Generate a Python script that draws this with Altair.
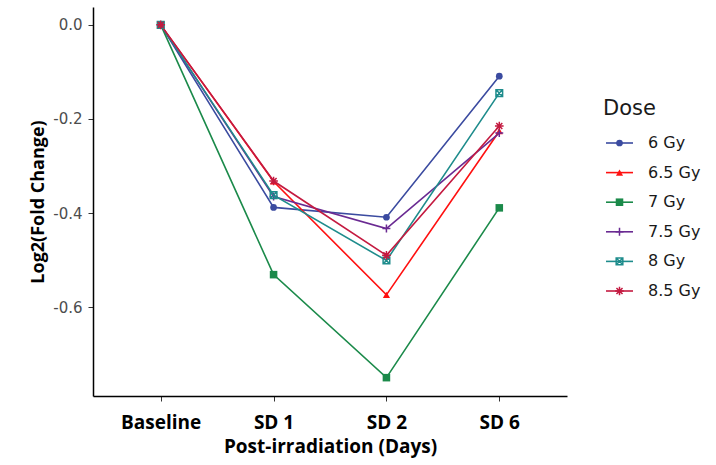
import altair as alt
import pandas as pd

timepoints = ["Baseline", "SD 1", "SD 2", "SD 6"]
doses = ["6 Gy", "6.5 Gy", "7 Gy", "7.5 Gy", "8 Gy", "8.5 Gy"]
vals_6 = [0.0, -0.388, -0.409, -0.109]
vals_65 = [0.0, -0.333, -0.574, -0.226]
vals_7 = [0.0, -0.531, -0.750, -0.389]
vals_75 = [0.0, -0.365, -0.433, -0.230]
vals_8 = [0.0, -0.362, -0.501, -0.145]
vals_85 = [0.0, -0.332, -0.490, -0.215]
y_ticks = [0.0, -0.2, -0.4, -0.6]
legend_title = ["Dose"]

colors = ["#3B4BA0", "#FF1010", "#1B8A4A", "#6A2A92", "#1E8C8C", "#C41A40"]
shapes = [
    "circle",
    "triangle-up",
    "square",
    "M-1,0L1,0M0,-1L0,1",
    "M-0.8,-0.8L0.8,-0.8L0.8,0.8L-0.8,0.8ZM-0.8,-0.8L0.8,0.8M-0.8,0.8L0.8,-0.8",
    "M-1,0L1,0M0,-1L0,1M-0.7,-0.7L0.7,0.7M-0.7,0.7L0.7,-0.7",
]
sizes = [45, 75, 40, 110, 64, 100]

series = [vals_6, vals_65, vals_7, vals_75, vals_8, vals_85]
rows = []
for d, vs in zip(doses, series):
    for t, v in zip(timepoints, vs):
        rows.append({"Time": t, "Dose": d, "Value": v})
df = pd.DataFrame(rows)
leg = pd.DataFrame({"Dose": doses})
title_df = pd.DataFrame({"t": legend_title})

W, H = 474, 389

color_scale = alt.Scale(domain=doses, range=colors)
shape_scale = alt.Scale(domain=doses, range=shapes)
size_scale = alt.Scale(domain=doses, range=sizes)

x_enc = alt.X(
    "Time:N",
    sort=timepoints,
    scale=alt.Scale(type="point", padding=0.6),
    axis=alt.Axis(
        title="Post-irradiation (Days)",
        labelAngle=0,
        labelFont="Open Sans",
        labelFontWeight="bold",
        labelFontSize=19,
        labelColor="#000000",
        labelPadding=12,
        tickSize=5,
        tickColor="#333333",
        domainColor="#000000",
        domainWidth=1.5,
        titleFont="Open Sans",
        titleFontWeight="bold",
        titleFontSize=19,
        titleColor="#000000",
        titlePadding=5,
    ),
)
y_enc = alt.Y(
    "Value:Q",
    scale=alt.Scale(domain=[-0.789, 0.038], nice=False, zero=False),
    axis=alt.Axis(
        title="Log2(Fold Change)",
        values=y_ticks,
        labelExpr="datum.value == 0 ? '0.0' : '-' + format(abs(datum.value), '.1f')",
        labelFont="DejaVu Sans",
        labelFontSize=15,
        labelColor="#4D4D4D",
        labelPadding=6,
        tickSize=5,
        tickColor="#333333",
        domainColor="#000000",
        domainWidth=1.5,
        grid=False,
        titleFont="Open Sans",
        titleFontWeight="bold",
        titleFontSize=18,
        titleColor="#000000",
        titlePadding=5,
    ),
)

lines = alt.Chart(df).mark_line(strokeWidth=1.6).encode(
    x=x_enc,
    y=y_enc,
    color=alt.Color("Dose:N", scale=color_scale, legend=None),
    detail="Dose:N",
)

filled_pts = alt.Chart(df).transform_filter(
    alt.FieldOneOfPredicate(field="Dose", oneOf=doses[:3])
).mark_point(filled=True, opacity=1).encode(
    x=alt.X("Time:N", sort=timepoints),
    y="Value:Q",
    color=alt.Color("Dose:N", scale=color_scale, legend=None),
    shape=alt.Shape("Dose:N", scale=shape_scale, legend=None),
    size=alt.Size("Dose:N", scale=size_scale, legend=None),
)
stroked_pts = alt.Chart(df).transform_filter(
    alt.FieldOneOfPredicate(field="Dose", oneOf=doses[3:])
).mark_point(filled=False, opacity=1, strokeWidth=1.5).encode(
    x=alt.X("Time:N", sort=timepoints),
    y="Value:Q",
    color=alt.Color("Dose:N", scale=color_scale, legend=None),
    shape=alt.Shape("Dose:N", scale=shape_scale, legend=None),
    size=alt.Size("Dose:N", scale=size_scale, legend=None),
)

main = alt.layer(lines, filled_pts, stroked_pts)

# manual legend
ly = alt.Y("Dose:N", sort=doses, scale=alt.Scale(type="point", range=[136, 284], padding=0), axis=None)
leg_rule = alt.Chart(leg).mark_rule(strokeWidth=1.6).encode(
    x=alt.value(513), x2=alt.value(540), y=ly,
    color=alt.Color("Dose:N", scale=color_scale, legend=None),
)
leg_filled = alt.Chart(leg).transform_filter(
    alt.FieldOneOfPredicate(field="Dose", oneOf=doses[:3])
).mark_point(filled=True, opacity=1).encode(
    x=alt.value(526.5), y=ly,
    color=alt.Color("Dose:N", scale=color_scale, legend=None),
    shape=alt.Shape("Dose:N", scale=shape_scale, legend=None),
    size=alt.Size("Dose:N", scale=size_scale, legend=None),
)
leg_stroked = alt.Chart(leg).transform_filter(
    alt.FieldOneOfPredicate(field="Dose", oneOf=doses[3:])
).mark_point(filled=False, opacity=1, strokeWidth=1.5).encode(
    x=alt.value(526.5), y=ly,
    color=alt.Color("Dose:N", scale=color_scale, legend=None),
    shape=alt.Shape("Dose:N", scale=shape_scale, legend=None),
    size=alt.Size("Dose:N", scale=size_scale, legend=None),
)
leg_text = alt.Chart(leg).mark_text(
    align="left", baseline="middle", font="DejaVu Sans", fontSize=16, color="#1A1A1A"
).encode(x=alt.value(555), y=ly, text="Dose:N")
leg_title = alt.Chart(title_df).mark_text(
    align="left", baseline="alphabetic", font="DejaVu Sans", fontSize=21, color="#1A1A1A"
).encode(x=alt.value(510), y=alt.value(108), text="t:N")

legend_layer = alt.layer(leg_rule, leg_filled, leg_stroked, leg_text, leg_title)

chart = alt.layer(main, legend_layer).resolve_scale(y="independent").properties(
    width=W,
    height=H,
    autosize=alt.AutoSizeParams(type="none"),
    padding={"left": 93, "top": 7, "right": 716 - 93 - W, "bottom": 465 - 7 - H},
    background="#FFFFFF",
).configure_view(stroke=None)

chart.save("out.html", embed_options={"renderer": "svg", "actions": False})
